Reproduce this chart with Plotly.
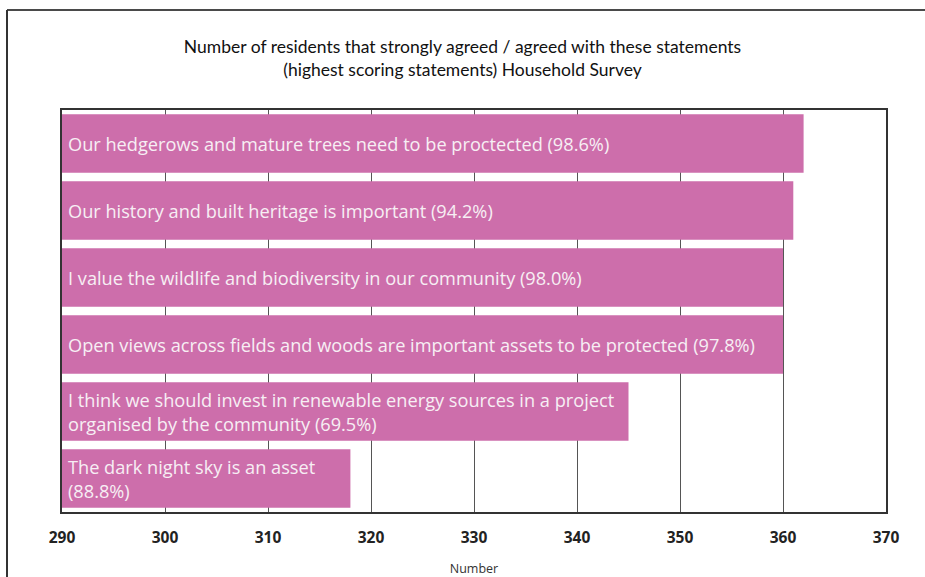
import plotly.graph_objects as go

# Survey statements (top to bottom) and number of residents agreeing
statements = [
    "Our hedgerows and mature trees need to be proctected (98.6%)",
    "Our history and built heritage is important (94.2%)",
    "I value the wildlife and biodiversity in our community (98.0%)",
    "Open views across fields and woods are important assets to be protected (97.8%)",
    "I think we should invest in renewable energy sources in a project<br>organised by the community (69.5%)",
    "The dark night sky is an asset<br>(88.8%)",
]
residents = [362, 361, 360, 360, 345, 318]
x_ticks = [290, 300, 310, 320, 330, 340, 350, 360, 370]
axis_start = x_ticks[0]

W, H = 925, 577
ML, MR, MT, MB = 62, 39, 110, 65
PW, PH = W - ML - MR, H - MT - MB

# bars start at the left edge of the axis
fig = go.Figure(
    go.Bar(
        x=[v - axis_start for v in residents],
        base=axis_start,
        y=list(range(len(statements))),
        orientation="h",
        marker=dict(color="#cd6eab", line=dict(width=0)),
        hoverinfo="skip",
    )
)

# left-aligned statement labels inside each bar
labels = [
    dict(x=axis_start, y=i, xref="x", yref="y", text=s, showarrow=False,
         xanchor="left", yanchor="middle", align="left", xshift=4,
         font=dict(family="Open Sans", size=18.2, color="#f7eef4"))
    for i, s in enumerate(statements)
]

# outer frame lines (top and left edges of the figure box)
fx = (7 - ML) / PW
fy_top = 1 + (MT - 10) / PH
fy_bot = -(MB) / PH - 0.01
frame = [
    dict(type="line", xref="paper", yref="paper", x0=fx, x1=(W - ML) / PW + 0.01,
         y0=fy_top, y1=fy_top, line=dict(color="#4a4a4a", width=2)),
    dict(type="line", xref="paper", yref="paper", x0=fx, x1=fx,
         y0=fy_top, y1=fy_bot, line=dict(color="#333333", width=2)),
]

fig.update_layout(
    width=W,
    height=H,
    margin=dict(l=ML, r=MR, t=MT, b=MB),
    paper_bgcolor="white",
    plot_bgcolor="white",
    bargap=0.13,
    showlegend=False,
    shapes=frame,
    annotations=labels,
    title=dict(
        text="Number of residents that strongly agreed / agreed with these statements<br>(highest scoring statements) Household Survey",
        x=0.5,
        xref="container",
        xanchor="center",
        y=1 - 53 / H,
        yref="container",
        yanchor="middle",
        font=dict(family="Lato, sans-serif", size=17.5, color="#111111"),
    ),
    xaxis=dict(
        range=[290, 370],
        tickvals=x_ticks,
        showgrid=True,
        gridcolor="#555555",
        gridwidth=1,
        showline=True,
        linecolor="#333333",
        linewidth=2,
        mirror=True,
        ticks="",
        ticklabelstandoff=10,
        tickfont=dict(family="Open Sans", size=15.5, color="#222222", weight="bold"),
        zeroline=False,
        automargin=False,
        title=dict(text="Number", standoff=18,
                   font=dict(family="Open Sans", size=12.5, color="#333333")),
    ),
    yaxis=dict(
        range=[len(statements) - 0.5, -0.5],
        showticklabels=False,
        showgrid=False,
        showline=True,
        linecolor="#333333",
        linewidth=2,
        mirror=True,
        ticks="",
        zeroline=False,
        automargin=False,
    ),
)

fig.write_html("out.html")
